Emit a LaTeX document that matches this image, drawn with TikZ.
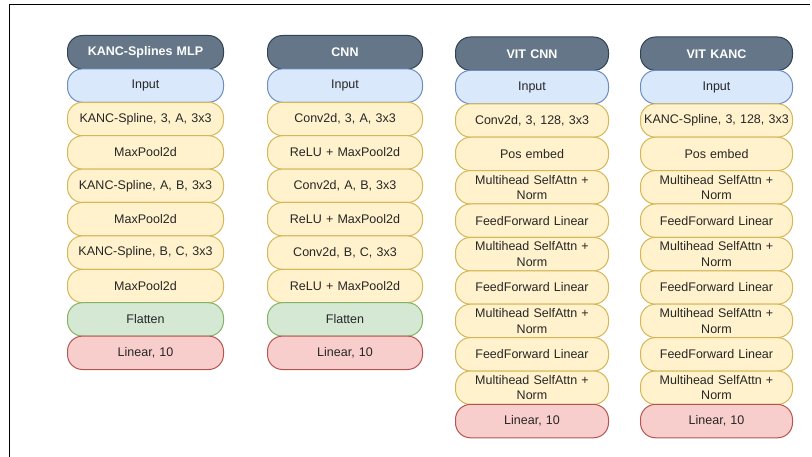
\documentclass[tikz,border=0pt]{standalone}
\usepackage{fontspec}
\setmainfont{Liberation Sans}
\usetikzlibrary{positioning}
\definecolor{hdfill}{HTML}{647687}
\definecolor{hddraw}{HTML}{314354}
\definecolor{infill}{HTML}{DAE8FC}
\definecolor{indraw}{HTML}{6C8EBF}
\definecolor{yfill}{HTML}{FFF2CC}
\definecolor{ydraw}{HTML}{D6B656}
\definecolor{gfill}{HTML}{D5E8D4}
\definecolor{gdraw}{HTML}{82B366}
\definecolor{rfill}{HTML}{F8CECC}
\definecolor{rdraw}{HTML}{B85450}
\tikzset{
  layer/.style={rounded corners=15pt, minimum height=33.4pt, text width=#1,
    inner xsep=0pt, inner ysep=0pt, outer sep=0pt, align=center, line width=1pt,
    font=\fontsize{12.5}{15.5}\selectfont, text=black!85},
  hd/.style={layer=#1, fill=hdfill, draw=hddraw, text=white, font=\fontsize{12.5}{15.5}\selectfont\bfseries},
  inp/.style={layer=#1, fill=infill, draw=indraw},
  yl/.style={layer=#1, fill=yfill, draw=ydraw},
  gl/.style={layer=#1, fill=gfill, draw=gdraw},
  rl/.style={layer=#1, fill=rfill, draw=rdraw},
  frame/.style={line width=1pt, draw=black}
}
\begin{document}
\begin{tikzpicture}[x=1pt,y=-1pt]
\useasboundingbox (0,0) rectangle (812,457);
\fill[white] (0,0) rectangle (812,457);
\draw[frame] (9,457) -- (9,5) -- (810,5);

% Column 1
\node[hd=156pt] (a0) at (145.5,52.2) {KANC-Splines MLP};
\node[inp=156pt, below=0pt of a0] (a1) {Input};
\node[yl=156pt, below=0pt of a1] (a2) {KANC-Spline, 3, A, 3x3};
\node[yl=156pt, below=0pt of a2] (a3) {MaxPool2d};
\node[yl=156pt, below=0pt of a3] (a4) {KANC-Spline, A, B, 3x3};
\node[yl=156pt, below=0pt of a4] (a5) {MaxPool2d};
\node[yl=156pt, below=0pt of a5] (a6) {KANC-Spline, B, C, 3x3};
\node[yl=156pt, below=0pt of a6] (a7) {MaxPool2d};
\node[gl=156pt, below=0pt of a7] (a8) {Flatten};
\node[rl=156pt, below=0pt of a8] (a9) {Linear, 10};

% Column 2
\node[hd=155pt] (b0) at (345,52.2) {CNN};
\node[inp=155pt, below=0pt of b0] (b1) {Input};
\node[yl=155pt, below=0pt of b1] (b2) {Conv2d, 3, A, 3x3};
\node[yl=155pt, below=0pt of b2] (b3) {ReLU + MaxPool2d};
\node[yl=155pt, below=0pt of b3] (b4) {Conv2d, A, B, 3x3};
\node[yl=155pt, below=0pt of b4] (b5) {ReLU + MaxPool2d};
\node[yl=155pt, below=0pt of b5] (b6) {Conv2d, B, C, 3x3};
\node[yl=155pt, below=0pt of b6] (b7) {ReLU + MaxPool2d};
\node[gl=155pt, below=0pt of b7] (b8) {Flatten};
\node[rl=155pt, below=0pt of b8] (b9) {Linear, 10};

% Column 3
\node[hd=153pt] (c0) at (532,53.7) {VIT CNN};
\node[inp=153pt, below=0pt of c0] (c1) {Input};
\node[yl=153pt, below=0pt of c1] (c2) {Conv2d, 3, 128, 3x3};
\node[yl=153pt, below=0pt of c2] (c3) {Pos embed};
\node[yl=153pt, below=0pt of c3] (c4) {Multihead SelfAttn +\\Norm};
\node[yl=153pt, below=0pt of c4] (c5) {FeedForward Linear};
\node[yl=153pt, below=0pt of c5] (c6) {Multihead SelfAttn +\\Norm};
\node[yl=153pt, below=0pt of c6] (c7) {FeedForward Linear};
\node[yl=153pt, below=0pt of c7] (c8) {Multihead SelfAttn +\\Norm};
\node[yl=153pt, below=0pt of c8] (c9) {FeedForward Linear};
\node[yl=153pt, below=0pt of c9] (c10) {Multihead SelfAttn +\\Norm};
\node[rl=153pt, below=0pt of c10] (c11) {Linear, 10};

% Column 4
\node[hd=152pt] (d0) at (716.5,53.7) {VIT KANC};
\node[inp=152pt, below=0pt of d0] (d1) {Input};
\node[yl=152pt, below=0pt of d1] (d2) {KANC-Spline, 3, 128, 3x3};
\node[yl=152pt, below=0pt of d2] (d3) {Pos embed};
\node[yl=152pt, below=0pt of d3] (d4) {Multihead SelfAttn +\\Norm};
\node[yl=152pt, below=0pt of d4] (d5) {FeedForward Linear};
\node[yl=152pt, below=0pt of d5] (d6) {Multihead SelfAttn +\\Norm};
\node[yl=152pt, below=0pt of d6] (d7) {FeedForward Linear};
\node[yl=152pt, below=0pt of d7] (d8) {Multihead SelfAttn +\\Norm};
\node[yl=152pt, below=0pt of d8] (d9) {FeedForward Linear};
\node[yl=152pt, below=0pt of d9] (d10) {Multihead SelfAttn +\\Norm};
\node[rl=152pt, below=0pt of d10] (d11) {Linear, 10};
\end{tikzpicture}
\end{document}
